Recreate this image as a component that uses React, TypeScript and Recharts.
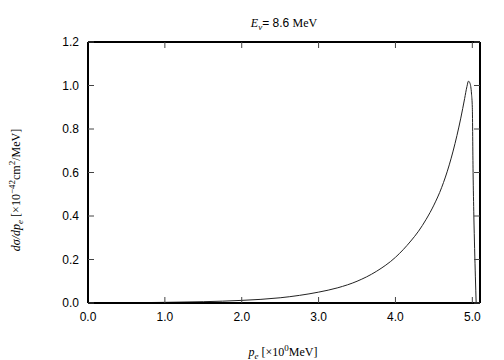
import { Line, LineChart, XAxis, YAxis } from 'recharts'

const momentum = [
  0, 0.5, 1.0, 1.5, 2.0, 2.5, 2.75, 3.0, 3.25, 3.5, 3.75, 4.0, 4.1, 4.2, 4.3, 4.4, 4.5, 4.6, 4.7,
  4.8, 4.85, 4.9, 4.93, 4.95, 4.97, 4.99, 5.0, 5.01, 5.02, 5.03, 5.04, 5.05,
]
const crossSection = [
  0, 0.001, 0.003, 0.006, 0.012, 0.024, 0.035, 0.05, 0.07, 0.1, 0.145, 0.21, 0.245, 0.285, 0.33,
  0.385, 0.45, 0.53, 0.635, 0.77, 0.85, 0.94, 0.995, 1.02, 1.01, 0.96, 0.9, 0.6, 0.4, 0.25, 0.12, 0,
]
const xTicks = [0, 1, 2, 3, 4, 5]
const yTicks = [0, 0.2, 0.4, 0.6, 0.8, 1.0, 1.2]

const data = momentum.map((p, i) => ({ p, s: crossSection[i] }))

const sans = '"Liberation Sans", Arial, sans-serif'
const serif = '"Liberation Serif", "Times New Roman", serif'
const frame = { stroke: '#000', strokeWidth: 2 }
const tickMark = { stroke: '#444', strokeWidth: 1 }
const tickFont = { fontSize: 12, fill: '#000', fontFamily: sans }
const noLabel = () => <g />

export default function App() {
  return (
    <div style={{ position: 'absolute', left: 0, top: 0, background: '#fff' }}>
      <LineChart
        width={504}
        height={360}
        data={data}
        margin={{ top: 42, right: 24, bottom: 27, left: 0 }}
      >
        <XAxis
          xAxisId="b"
          dataKey="p"
          type="number"
          domain={[0, 5.1]}
          ticks={xTicks}
          tickFormatter={(v: number) => v.toFixed(1)}
          tickSize={-6}
          tickMargin={15}
          tickLine={tickMark}
          axisLine={frame}
          tick={tickFont}
          height={30}
        />
        <XAxis
          xAxisId="t"
          orientation="top"
          mirror
          dataKey="p"
          type="number"
          domain={[0, 5.1]}
          ticks={xTicks}
          tickSize={6}
          tickLine={tickMark}
          axisLine={frame}
          tick={noLabel}
        />
        <YAxis
          yAxisId="l"
          type="number"
          domain={[0, 1.2]}
          ticks={yTicks}
          tickFormatter={(v: number) => v.toFixed(1)}
          tickSize={-6}
          tickMargin={15}
          tickLine={tickMark}
          axisLine={frame}
          tick={tickFont}
          width={88}
        />
        <YAxis
          yAxisId="r"
          orientation="right"
          mirror
          type="number"
          domain={[0, 1.2]}
          ticks={yTicks}
          tickSize={6}
          tickLine={tickMark}
          axisLine={frame}
          tick={noLabel}
        />
        <Line
          xAxisId="b"
          yAxisId="l"
          dataKey="s"
          type="monotone"
          stroke="#222"
          strokeWidth={1}
          dot={false}
          activeDot={false}
          isAnimationActive={false}
        />
        <Line
          xAxisId="t"
          yAxisId="r"
          dataKey="s"
          stroke="none"
          dot={false}
          activeDot={false}
          isAnimationActive={false}
        />
        <text x={284} y={27} textAnchor="middle" fontSize={12} fill="#000">
          <tspan fontFamily={serif} fontStyle="italic">E</tspan>
          <tspan fontFamily={serif} fontStyle="italic" fontSize={9} dy={3}>ν</tspan>
          <tspan fontFamily={sans} dy={-3}>= 8.6 </tspan>
          <tspan fontFamily={serif}>MeV</tspan>
        </text>
        <text x={283} y={356} textAnchor="middle" fontSize={12} fill="#000" fontFamily={serif}>
          <tspan fontStyle="italic">p</tspan>
          <tspan fontStyle="italic" fontSize={9} dy={3}>e</tspan>
          <tspan dy={-3}> [×10</tspan>
          <tspan fontSize={9} dy={-5}>0</tspan>
          <tspan dy={5}>MeV]</tspan>
        </text>
        <text
          x={20}
          y={190}
          transform="rotate(-90 20 190)"
          textAnchor="middle"
          fontSize={12}
          fill="#000"
          fontFamily={serif}
        >
          <tspan fontStyle="italic">dσ/dp</tspan>
          <tspan fontStyle="italic" fontSize={9} dy={3}>e</tspan>
          <tspan dy={-3}> [×10</tspan>
          <tspan fontSize={9} dy={-5}>−42</tspan>
          <tspan dy={5}>cm</tspan>
          <tspan fontSize={9} dy={-5}>2</tspan>
          <tspan dy={5}>/MeV]</tspan>
        </text>
      </LineChart>
    </div>
  )
}
